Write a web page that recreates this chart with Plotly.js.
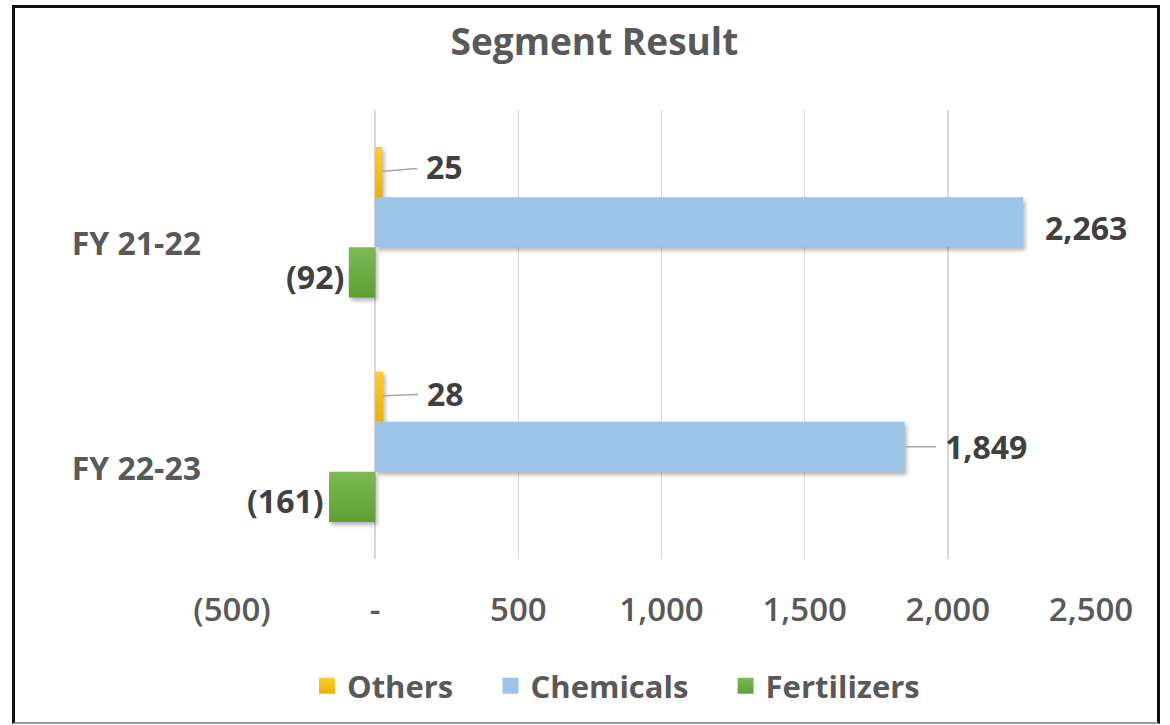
<!DOCTYPE html>
<html>
<head>
<meta charset="utf-8">
<script src="https://cdn.plot.ly/plotly-3.0.1.min.js"></script>
<style>
  html, body { margin: 0; padding: 0; background: #ffffff; }
  #wrap { position: relative; width: 1170px; height: 725px; }
  #chart { position: absolute; left: 0; top: 0; width: 1170px; height: 725px; }
  #frame {
    position: absolute; left: 12px; top: 5px; width: 1142px; height: 714px;
    border: 3px solid #111; border-bottom: 2px solid #9a9a9a;
    pointer-events: none;
  }
  /* soft drop shadow under the bars */
  #chart .barlayer .point path { filter: drop-shadow(2px 3px 2px rgba(0,0,0,0.30)); }
</style>
</head>
<body>
<div id="wrap">
  <div id="chart"></div>
  <div id="frame"></div>
</div>
<script>
// Segment result by financial year
const categories  = ['FY 21-22', 'FY 22-23'];
const others      = [25, 28];
const chemicals   = [2263, 1849];
const fertilizers = [-92, -161];

const tickValues = [-500, 0, 500, 1000, 1500, 2000, 2500];
const tickLabels = ['(500)', '-', '500', '1,000', '1,500', '2,000', '2,500'];

const SERIES = [
  { name: 'Others',      values: others,      color: '#FFC000', top: '#FFCB2E', bottom: '#EDB100' },
  { name: 'Chemicals',   values: chemicals,   color: '#9DC3E6', top: '#9DC3E6', bottom: '#9DC3E6' },
  { name: 'Fertilizers', values: fertilizers, color: '#6DAC42', top: '#7DBA55', bottom: '#5E9F33' }
];
const FONT = 'Open Sans, Noto Sans, sans-serif';
const GAP = '\u00a0\u00a0\u00a0\u00a0';

function fmt(v) {
  const s = Math.abs(v).toLocaleString('en-US');
  return v < 0 ? '(' + s + ')' : s;
}

const traces = SERIES.map((s, k) => ({
  type: 'bar',
  orientation: 'h',
  // trailing spaces widen the gap between legend entries
  name: k < SERIES.length - 1 ? s.name + GAP : s.name,
  x: s.values,
  y: categories,
  marker: { color: s.color, line: { width: 0 } },
  hoverinfo: 'x+name'
}));

// value labels: bar slot offset in px (three bars per category)
const BAR_PX = 51;
const labelFont = { family: FONT, size: 32, color: '#404040', weight: 700 };
const leader = { showarrow: true, arrowhead: 0, arrowwidth: 1.5, arrowcolor: '#A6A6A6', borderpad: 8 };
const annotations = [];
categories.forEach((cat, i) => {
  // Others: short leader line to the right
  annotations.push(Object.assign({
    x: others[i], y: cat, xref: 'x', yref: 'y',
    yshift: BAR_PX, text: fmt(others[i]),
    ax: 62, ay: i === 0 ? -5 : -2, font: labelFont
  }, leader));
  // Chemicals
  if (i === 0) {
    annotations.push({
      x: chemicals[i], y: cat, xref: 'x', yref: 'y',
      text: fmt(chemicals[i]), showarrow: false,
      xanchor: 'left', xshift: 20, yshift: -5, font: labelFont
    });
  } else {
    annotations.push(Object.assign({
      x: chemicals[i], y: cat, xref: 'x', yref: 'y',
      text: fmt(chemicals[i]), ax: 81, ay: 0, font: labelFont
    }, leader));
  }
  // Fertilizers: label just left of the negative bar
  annotations.push({
    x: fertilizers[i], y: cat, xref: 'x', yref: 'y',
    yshift: -BAR_PX - 3, text: fmt(fertilizers[i]), showarrow: false,
    xanchor: 'right', xshift: -3, font: labelFont
  });
});

const layout = {
  width: 1170, height: 725,
  margin: { l: 232, r: 79, t: 110, b: 159, pad: 0 },
  paper_bgcolor: '#ffffff', plot_bgcolor: '#ffffff',
  font: { family: FONT, color: '#595959' },
  title: {
    text: 'Segment Result',
    font: { family: FONT, size: 37, color: '#595959', weight: 700 },
    xref: 'container', yref: 'container',
    x: 0.508, y: 0.942, xanchor: 'center', yanchor: 'middle'
  },
  barmode: 'group', bargap: 0.33, bargroupgap: 0,
  xaxis: {
    range: [-500, 2500],
    tickmode: 'array', tickvals: tickValues, ticktext: tickLabels,
    showgrid: true, gridcolor: '#D9D9D9', gridwidth: 1.5,
    zeroline: false, showline: false, ticks: '',
    ticklabelstandoff: 28,
    tickfont: { family: FONT, size: 33, color: '#595959', weight: 600 },
    fixedrange: true
  },
  yaxis: {
    type: 'category', categoryorder: 'array', categoryarray: categories,
    range: [1.5, -0.5],
    showgrid: false, zeroline: false, showline: false, ticks: '',
    ticklabelstandoff: 30, ticklabelshift: -22,
    tickfont: { family: FONT, size: 32, color: '#595959', weight: 700 },
    fixedrange: true
  },
  showlegend: true,
  legend: {
    orientation: 'h', x: 0.447, xanchor: 'center', y: -0.283, yanchor: 'middle',
    font: { family: FONT, size: 31, color: '#595959', weight: 700 },
    bgcolor: 'rgba(0,0,0,0)', traceorder: 'normal'
  },
  annotations: annotations
};

// vertical gradient fills for the bars and larger legend swatches
function finishStyling(gd) {
  const svg = gd.querySelector('svg.main-svg');
  const NS = 'http://www.w3.org/2000/svg';
  let defs = svg.querySelector('defs');
  if (!defs) { defs = document.createElementNS(NS, 'defs'); svg.insertBefore(defs, svg.firstChild); }
  SERIES.forEach((s, k) => {
    const id = 'seg-grad-' + k;
    const g = document.createElementNS(NS, 'linearGradient');
    g.setAttribute('id', id);
    g.setAttribute('x1', '0'); g.setAttribute('y1', '0');
    g.setAttribute('x2', '0'); g.setAttribute('y2', '1');
    [[0, s.top], [1, s.bottom]].forEach(([o, c]) => {
      const st = document.createElementNS(NS, 'stop');
      st.setAttribute('offset', o); st.setAttribute('stop-color', c);
      g.appendChild(st);
    });
    defs.appendChild(g);
    const barTrace = gd.querySelectorAll('.barlayer .trace')[k];
    if (barTrace) barTrace.querySelectorAll('.point path').forEach(p => { p.style.fill = 'url(#' + id + ')'; });
    const legTrace = gd.querySelectorAll('.legend .traces')[k];
    if (legTrace) legTrace.querySelectorAll('.legendpoints path').forEach(p => {
      p.style.fill = 'url(#' + id + ')';
      const t = p.getAttribute('transform') || '';
      p.setAttribute('transform', t + ' scale(1.33)');
    });
  });
}

Plotly.newPlot('chart', traces, layout, { displayModeBar: false, staticPlot: true })
  .then(finishStyling);
</script>
</body>
</html>
